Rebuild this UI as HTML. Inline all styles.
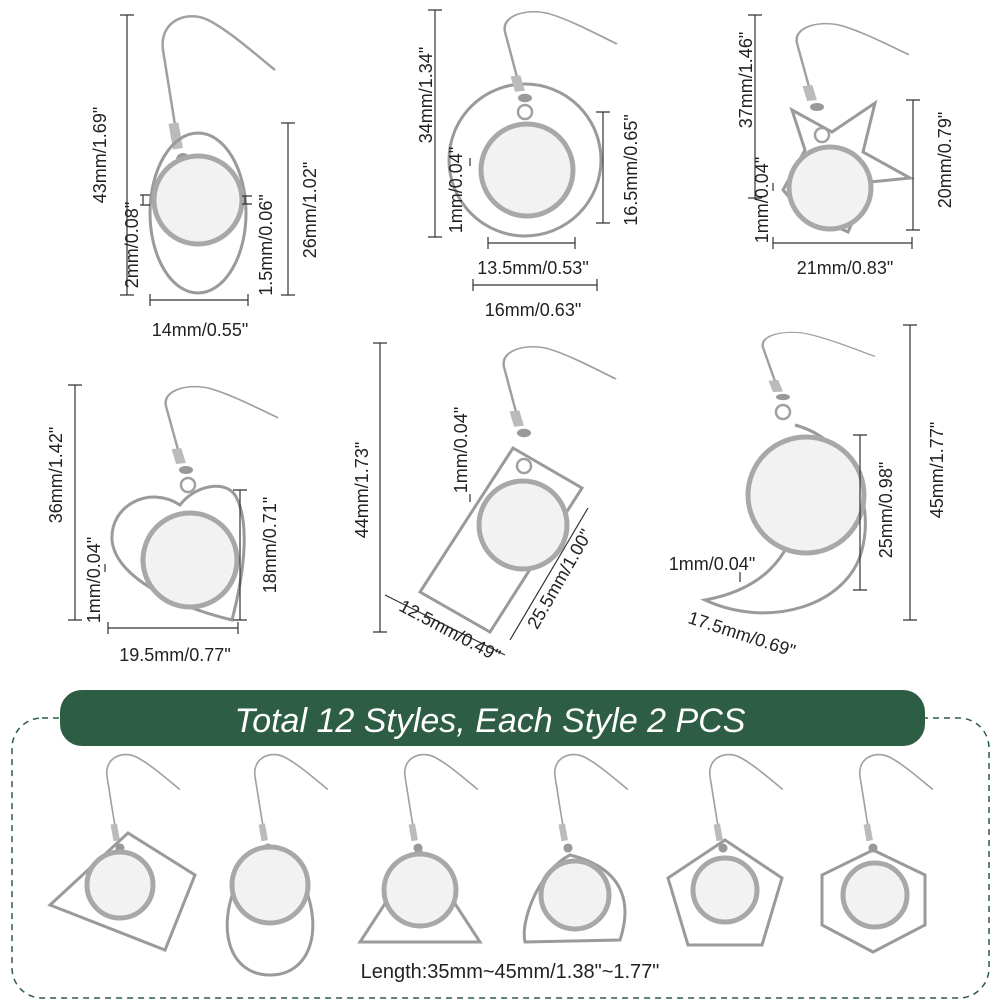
<!DOCTYPE html>
<html><head><meta charset="utf-8"><style>
html,body{margin:0;padding:0;background:#fff}
svg{display:block}
text{font-family:"Liberation Sans",sans-serif;fill:#222;font-size:18px}
.d{stroke:#333;stroke-width:1.2;fill:none}
.m{stroke:#9a9a9a;stroke-width:3;fill:none}
.h{stroke:#a0a0a0;stroke-width:2.5;fill:none}
.c{fill:#f2f2f2;stroke:#a8a8a8;stroke-width:5}
</style></head><body>
<svg width="1001" height="1001" viewBox="0 0 1001 1001" xmlns="http://www.w3.org/2000/svg">
<defs>
<g id="hook">
<path class="h" d="M-8,-35 L-20,-110 C-24,-140 5,-150 25,-140 C45,-130 70,-108 92,-90"/>
<rect x="-8" y="-38" width="10" height="26" fill="#bbb" transform="rotate(-10)"/>
<circle cx="0" cy="0" r="7" fill="#999"/>
</g>
</defs>
<!-- Earring 1 -->
<use href="#hook" x="183" y="160"/>
<circle cx="183" cy="176" r="8" class="h"/>
<ellipse class="m" cx="198" cy="213" rx="48" ry="80"/>
<circle class="c" cx="198" cy="200" r="44"/>
<path class="d" d="M127,15V295 M120,15H134 M120,295H134 M288,123V295 M281,123H295 M281,295H295 M150,300H248 M150,294V306 M248,294V306 M143,195V205 M140,195h10 M140,205h10 M245,196v8 M242,196h10 M242,204h10"/>
<text transform="translate(106,155) rotate(-90)" text-anchor="middle">43mm/1.69"</text>
<text transform="translate(138,245) rotate(-90)" text-anchor="middle">2mm/0.08"</text>
<text transform="translate(272,245) rotate(-90)" text-anchor="middle">1.5mm/0.06"</text>
<text transform="translate(316,210) rotate(-90)" text-anchor="middle">26mm/1.02"</text>
<text x="200" y="336" text-anchor="middle">14mm/0.55"</text>
<!-- Earring 2 -->
<circle class="m" cx="525" cy="160" r="76"/>
<use href="#hook" transform="translate(525,98) scale(1,0.6)"/>
<circle cx="525" cy="112" r="7" class="h"/>
<circle class="c" cx="527" cy="170" r="46"/>
<path class="d" d="M435,10V237 M428,10H442 M428,237H442 M603,112V223 M596,112H610 M596,223H610 M488,243H575 M488,237V249 M575,237V249 M473,285H597 M473,279V291 M597,279V291 M470,158v8"/>
<text transform="translate(432,95) rotate(-90)" text-anchor="middle">34mm/1.34"</text>
<text transform="translate(462,190) rotate(-90)" text-anchor="middle">1mm/0.04"</text>
<text transform="translate(637,170) rotate(-90)" text-anchor="middle">16.5mm/0.65"</text>
<text x="533" y="274" text-anchor="middle">13.5mm/0.53"</text>
<text x="533" y="316" text-anchor="middle">16mm/0.63"</text>
<!-- Earring 3 -->
<path class="m" d="M792,110 L832,132 L875,103 L863,152 L910,178 L870,182 L848,232 L800,210 L783,190 L805,150 Z"/>
<use href="#hook" transform="translate(817,107) scale(1,0.58)"/>
<circle cx="822" cy="135" r="7" class="h"/>
<circle class="c" cx="830" cy="188" r="41"/>
<path class="d" d="M755,15V198 M748,15H762 M748,198H762 M913,100V230 M906,100H920 M906,230H920 M773,243H912 M773,237V249 M912,237V249 M773,183v8"/>
<text transform="translate(752,80) rotate(-90)" text-anchor="middle">37mm/1.46"</text>
<text transform="translate(768,200) rotate(-90)" text-anchor="middle">1mm/0.04"</text>
<text transform="translate(951,160) rotate(-90)" text-anchor="middle">20mm/0.79"</text>
<text x="845" y="274" text-anchor="middle">21mm/0.83"</text>
<!-- Earring 4 -->
<use href="#hook" transform="translate(186,470) scale(1,0.58)"/>
<circle cx="188" cy="485" r="7" class="h"/>
<path class="m" d="M180,505 C150,485 110,505 112,540 C115,575 170,605 232,620 C245,570 250,520 235,495 C225,480 195,485 180,505 Z"/>
<circle class="c" cx="190" cy="560" r="47"/>
<path class="d" d="M75,385V620 M68,385H82 M68,620H82 M240,490V620 M233,490H247 M233,620H247 M108,628H238 M108,622V634 M238,622V634 M105,564v8"/>
<text transform="translate(62,475) rotate(-90)" text-anchor="middle">36mm/1.42"</text>
<text transform="translate(100,580) rotate(-90)" text-anchor="middle">1mm/0.04"</text>
<text transform="translate(276,545) rotate(-90)" text-anchor="middle">18mm/0.71"</text>
<text x="175" y="661" text-anchor="middle">19.5mm/0.77"</text>
<!-- Earring 5 -->
<path class="m" d="M513,448 L582,488 L490,632 L420,592 Z"/>
<use href="#hook" transform="translate(524,433) scale(1,0.6)"/>
<circle cx="524" cy="466" r="7" class="h"/>
<circle class="c" cx="523" cy="525" r="44"/>
<path class="d" d="M380,343V632 M373,343H387 M373,632H387 M510,640L588,508 M385,595L505,655 M470,494v8"/>
<text transform="translate(368,490) rotate(-90)" text-anchor="middle">44mm/1.73"</text>
<text transform="translate(467,450) rotate(-90)" text-anchor="middle">1mm/0.04"</text>
<text transform="translate(565,582) rotate(-60)" text-anchor="middle">25.5mm/1.00"</text>
<text transform="translate(447,636) rotate(28)" text-anchor="middle">12.5mm/0.49"</text>
<!-- Earring 6 -->
<use href="#hook" transform="translate(783,397) scale(1,0.45)"/>
<circle cx="783" cy="412" r="7" class="h"/>
<path class="m" d="M795,425 C850,440 875,500 862,550 C848,605 770,630 705,600 C760,590 790,560 800,510"/>
<circle class="c" cx="806" cy="495" r="58"/>
<path class="d" d="M910,325V620 M903,325H917 M903,620H917 M860,435V590 M853,435H867 M853,590H867 M740,572v10"/>
<text transform="translate(943,470) rotate(-90)" text-anchor="middle">45mm/1.77"</text>
<text transform="translate(892,510) rotate(-90)" text-anchor="middle">25mm/0.98"</text>
<text x="712" y="570" text-anchor="middle">1mm/0.04"</text>
<text transform="translate(740,640) rotate(18)" text-anchor="middle">17.5mm/0.69"</text>
<!-- Bottom section -->
<rect x="12" y="718" width="977" height="280" rx="30" fill="none" stroke="#2e5d45" stroke-width="1.5" stroke-dasharray="6,5"/>
<rect x="60" y="690" width="865" height="56" rx="22" fill="#2e5d45"/>
<text x="490" y="732" text-anchor="middle" style="font-size:34px;font-style:italic;fill:#fff">Total 12 Styles, Each Style 2 PCS</text>
<use href="#hook" transform="translate(120,848) scale(0.65)"/>
<path class="m" d="M50,905 L128,833 L195,875 L165,950 Z"/>
<circle class="c" cx="120" cy="885" r="33"/>
<use href="#hook" transform="translate(268,848) scale(0.65)"/>
<path class="m" d="M238,880 C215,930 230,975 270,975 C310,975 325,930 302,880"/>
<circle class="c" cx="270" cy="885" r="38"/>
<use href="#hook" transform="translate(418,848) scale(0.65)"/>
<path class="m" d="M420,850 L480,942 L360,942 Z"/>
<circle class="c" cx="420" cy="890" r="36"/>
<use href="#hook" transform="translate(568,848) scale(0.65)"/>
<path class="m" d="M570,855 C540,870 520,920 525,942 L620,940 C630,910 630,870 570,855Z"/>
<circle class="c" cx="575" cy="895" r="34"/>
<use href="#hook" transform="translate(723,848) scale(0.65)"/>
<path class="m" d="M668,878 L725,840 L782,878 L762,945 L688,945 Z"/>
<circle class="c" cx="725" cy="890" r="32"/>
<use href="#hook" transform="translate(873,848) scale(0.65)"/>
<path class="m" d="M873,850 L925,875 L925,925 L873,952 L822,925 L822,875 Z"/>
<circle class="c" cx="875" cy="895" r="32"/>
<text x="510" y="978" text-anchor="middle" style="font-size:20px">Length:35mm~45mm/1.38"~1.77"</text>
</svg>
</body></html>
